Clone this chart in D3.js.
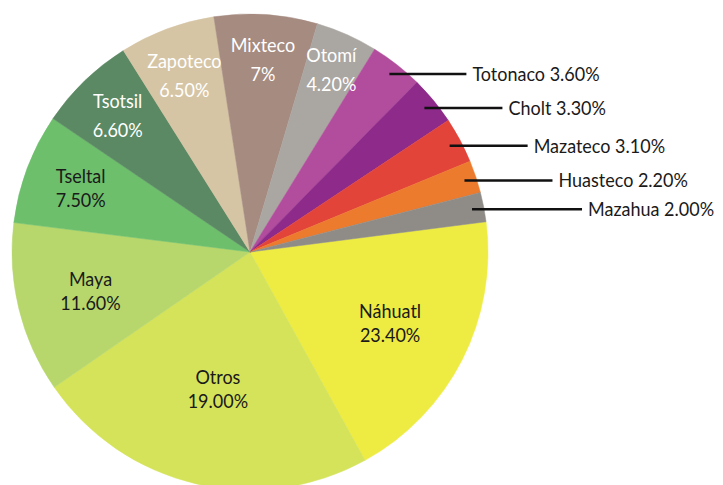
<!DOCTYPE html>
<html>
<head>
<meta charset="utf-8">
<script src="https://cdn.jsdelivr.net/npm/d3@7"></script>
<style>
  html, body { margin: 0; padding: 0; background: #ffffff; }
  svg { display: block; }
  text { font-family: Lato, "Open Sans", sans-serif; }
</style>
</head>
<body>
<svg id="chart" width="723" height="485"></svg>
<script>
// ---- data ----
const categories = ["Náhuatl", "Otros", "Maya", "Tseltal", "Tsotsil", "Zapoteco", "Mixteco", "Otomí",
                    "Totonaco", "Cholt", "Mazateco", "Huasteco", "Mazahua"];
// slice sizes as drawn in the picture
const values = [19.0, 23.4, 11.6, 7.5, 6.6, 6.5, 7.0, 4.2, 3.6, 3.3, 3.1, 2.2, 2.0];
// percentage texts as printed on the picture
const percentLabels = ["23.40%", "19.00%", "11.60%", "7.50%", "6.60%", "6.50%", "7%", "4.20%",
                       "3.60%", "3.30%", "3.10%", "2.20%", "2.00%"];
const colors = ["#eeec43", "#d5e35b", "#b7d76c", "#6dbf6c", "#5b8963", "#d6c5a5", "#a58b80", "#aaa6a2",
                "#b24c9c", "#8d2a8a", "#e3443a", "#ed7b2e", "#8f8c88"];

// ---- layout ----
const cx = 250, cy = 252, R = 238;
const startAngle = 82.7 * Math.PI / 180;
const fontSize = 20, squeeze = 0.9;
const whiteText = new Set(["Tsotsil", "Zapoteco", "Mixteco", "Otomí"]);
const outside = new Set(["Totonaco", "Cholt", "Mazateco", "Huasteco", "Mazahua"]);
const leaderLen = {"Totonaco": 77, "Cholt": 78, "Mazateco": 78, "Huasteco": 88, "Mazahua": 110};
const labelRadiusFactor = {"Náhuatl": 0.66, "Otros": 0.59, "Maya": 0.69, "Tseltal": 0.76,
                           "Tsotsil": 0.80, "Zapoteco": 0.79, "Mixteco": 0.81, "Otomí": 0.84};

const svg = d3.select("#chart");
const g = svg.append("g").attr("transform", `translate(${cx},${cy})`);

const color = d3.scaleOrdinal().domain(categories).range(colors);
const rows = categories.map((c, i) => ({name: c, value: values[i], pct: percentLabels[i]}));

const pie = d3.pie().value(d => d.value).sort(null)
  .startAngle(startAngle).endAngle(startAngle + 2 * Math.PI);
const arcs = pie(rows);
const arc = d3.arc().innerRadius(0).outerRadius(R);

g.selectAll("path.slice").data(arcs).join("path")
  .attr("class", "slice")
  .attr("d", arc)
  .attr("fill", d => color(d.data.name))
  .attr("stroke", d => color(d.data.name))
  .attr("stroke-width", 0.5);

// inside labels
arcs.filter(d => !outside.has(d.data.name)).forEach(d => {
  const f = labelRadiusFactor[d.data.name];
  const la = d3.arc().innerRadius(R * f).outerRadius(R * f);
  const [x, y] = la.centroid(d);
  const white = whiteText.has(d.data.name);
  const gap = white ? 29 : 24;
  const t = g.append("text")
    .attr("text-anchor", "middle")
    .attr("fill", white ? "#ffffff" : "#1a1a1a")
    .attr("font-size", fontSize)
    .attr("transform", `translate(${x},${y}) scale(${squeeze},1)`);
  t.append("tspan").attr("x", 0).attr("y", -gap / 2).attr("dy", "0.35em").text(d.data.name);
  t.append("tspan").attr("x", 0).attr("y", gap / 2).attr("dy", "0.35em").text(d.data.pct);
});

// outside labels with leader lines
const leadArc = d3.arc().innerRadius(R * 0.95).outerRadius(R * 0.95);
arcs.filter(d => outside.has(d.data.name)).forEach(d => {
  const [x, y] = leadArc.centroid(d);
  const x2 = x + leaderLen[d.data.name];
  g.append("line")
    .attr("x1", x).attr("y1", y).attr("x2", x2).attr("y2", y)
    .attr("stroke", "#111111").attr("stroke-width", 2.5);
  g.append("text")
    .attr("transform", `translate(${x2 + 6},${y}) scale(${squeeze},1)`)
    .attr("dy", "0.35em")
    .attr("fill", "#1a1a1a").attr("font-size", fontSize)
    .text(d.data.name + " " + d.data.pct);
});
</script>
</body>
</html>
